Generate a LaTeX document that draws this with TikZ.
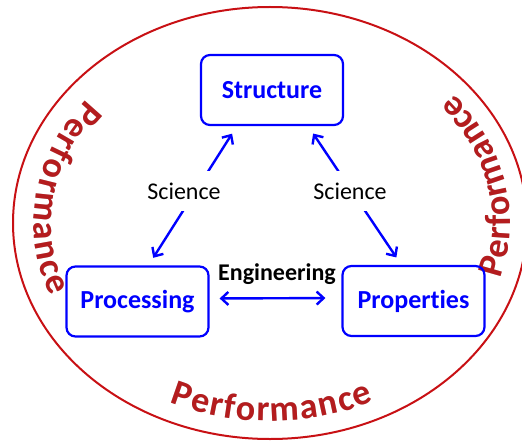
\documentclass[tikz,border=0pt]{standalone}
\usepackage{fontspec}
\setmainfont{Carlito}[Ligatures={NoCommon,NoContextual}]
\usetikzlibrary{arrows.meta,decorations.text,calc}
\definecolor{rimred}{RGB}{200,16,20}
\definecolor{perfred}{RGB}{180,28,30}
\definecolor{boxblue}{RGB}{0,0,255}

\begin{document}
\begin{tikzpicture}[x=1pt,y=1pt,
  box/.style={draw=boxblue, line width=2.2pt, rounded corners=9pt,
    minimum width=142pt, minimum height=70pt, text=boxblue,
    font=\fontsize{26}{26}\selectfont\bfseries},
  link/.style={draw=boxblue, line width=2.4pt,
    {Straight Barb[length=7pt,width=13pt]}-{Straight Barb[length=7pt,width=13pt]}},
  sci/.style={fill=white, font=\fontsize{24}{24}\selectfont,
    minimum height=40pt, inner xsep=5pt},
  perf/.style={decorate, decoration={text along path,
    text={|\fontsize{36}{36}\selectfont\bfseries|Performance},
    text align=fit to path, text color=#1}},
]
\useasboundingbox (0,-441) rectangle (522,0);

% outer rim
\coordinate (c) at (270,-223);
\draw[rimred, line width=2pt] (c) ellipse [x radius=257, y radius=216];

% Performance labels following the rim (shadow first)
\foreach \col/\dx/\dy in {black!22/1.5/-1.5, perfred/0/0}{
  \begin{scope}[shift={(\dx,\dy)}]
    \path[perf=\col] ($(c)+(141:236 and 196)$)
      arc[start angle=141, end angle=202, x radius=236, y radius=196];
    \path[perf=\col] ($(c)+(245:237 and 198)$)
      arc[start angle=245, end angle=296, x radius=237, y radius=198];
    \path[perf=\col] ($(c)+(-16:240 and 200)$)
      arc[start angle=-16, end angle=40, x radius=240, y radius=200];
  \end{scope}
}

% the three boxes
\node[box] (struct) at (272,-90)    {Structure};
\node[box] (proc)   at (137.5,-301.5) {Processing};
\node[box] (prop)   at (413.5,-301) {Properties};

% connectors
\draw[link, shorten <=9pt, shorten >=9pt]
  ($(proc.north west)+(83,0)$) -- ($(struct.south west)+(37,0)$);
\draw[link, shorten <=9pt, shorten >=9pt]
  ($(struct.south east)+(-36,0)$) -- ($(prop.north west)+(60,0)$);
\draw[link, shorten <=10pt, shorten >=16pt]
  ($(proc.east)+(0,3)$) -- ($(prop.west)+(0,3)$);

% labels on the connectors
\node[sci] (sciL) at (184,-191) {Science};
\node[sci] (sciR) at (350,-191) {Science};
\node[font=\fontsize{24}{24}\selectfont\bfseries] (eng) at (277,-274) {Engineering};
\end{tikzpicture}
\end{document}
